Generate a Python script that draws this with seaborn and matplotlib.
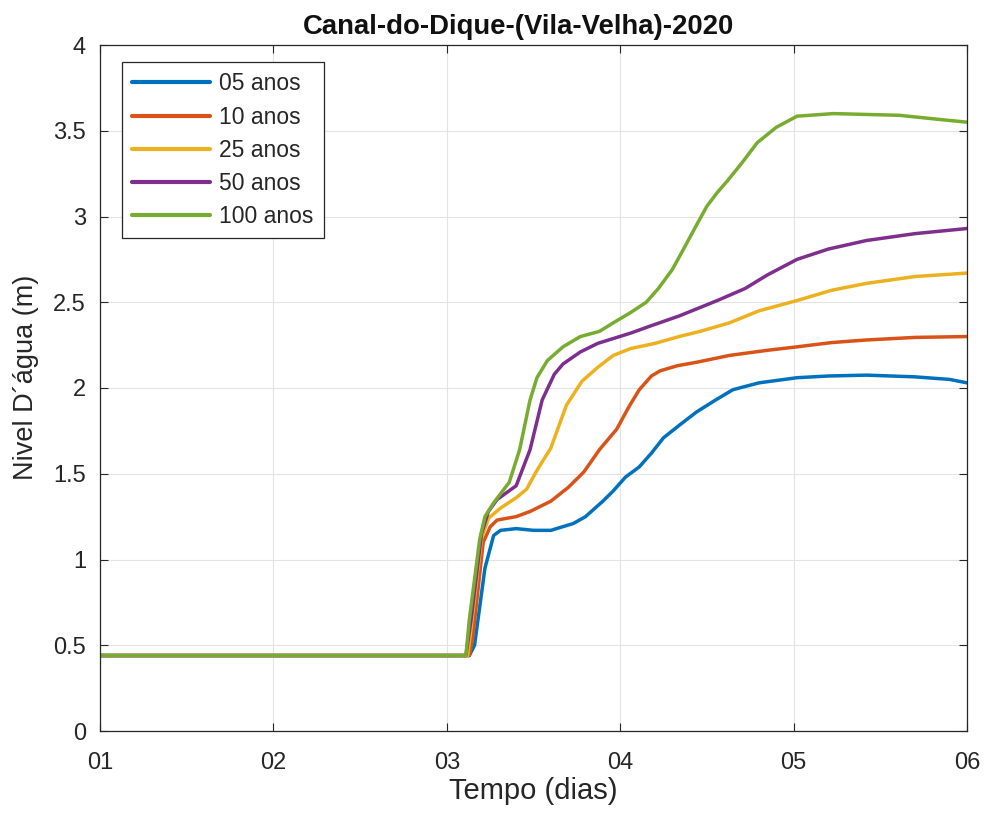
import numpy as np
import pandas as pd
import matplotlib
matplotlib.use("Agg")
import matplotlib.pyplot as plt
import seaborn as sns

series_names = ["05 anos", "10 anos", "25 anos", "50 anos", "100 anos"]
colors = ["#0072BD", "#D95319", "#EDB120", "#7E2F8E", "#77AC30"]

x_05 = [1.0, 3.13, 3.16, 3.22, 3.27, 3.31, 3.40, 3.50, 3.60, 3.73, 3.80, 3.90, 3.96, 4.03, 4.11, 4.18, 4.25,
        4.35, 4.44, 4.55, 4.65, 4.80, 5.02, 5.20, 5.42, 5.70, 5.90, 6.0]
y_05 = [0.44, 0.44, 0.50, 0.95, 1.14, 1.17, 1.18, 1.17, 1.17, 1.21, 1.25, 1.34, 1.40, 1.48, 1.54, 1.62, 1.71,
        1.79, 1.86, 1.93, 1.99, 2.03, 2.06, 2.07, 2.075, 2.065, 2.05, 2.03]

x_10 = [1.0, 3.13, 3.15, 3.21, 3.25, 3.29, 3.40, 3.48, 3.60, 3.70, 3.79, 3.88, 3.98, 4.05, 4.11, 4.18, 4.23,
        4.33, 4.44, 4.63, 4.85, 5.02, 5.22, 5.42, 5.70, 6.0]
y_10 = [0.44, 0.44, 0.55, 1.10, 1.19, 1.23, 1.25, 1.28, 1.34, 1.42, 1.51, 1.64, 1.76, 1.89, 1.99, 2.07, 2.10,
        2.13, 2.15, 2.19, 2.22, 2.24, 2.265, 2.28, 2.295, 2.30]

x_25 = [1.0, 3.12, 3.14, 3.20, 3.24, 3.31, 3.40, 3.46, 3.52, 3.60, 3.69, 3.78, 3.87, 3.96, 4.06, 4.20, 4.34,
        4.46, 4.63, 4.80, 5.02, 5.22, 5.42, 5.70, 6.0]
y_25 = [0.44, 0.44, 0.60, 1.12, 1.24, 1.30, 1.36, 1.41, 1.52, 1.65, 1.90, 2.04, 2.12, 2.19, 2.23, 2.26, 2.30,
        2.33, 2.38, 2.45, 2.51, 2.57, 2.61, 2.65, 2.67]

x_50 = [1.0, 3.11, 3.14, 3.20, 3.24, 3.29, 3.40, 3.48, 3.55, 3.62, 3.67, 3.77, 3.87, 4.06, 4.17, 4.34, 4.56,
        4.72, 4.85, 5.02, 5.20, 5.42, 5.70, 6.0]
y_50 = [0.44, 0.44, 0.65, 1.15, 1.28, 1.35, 1.43, 1.64, 1.93, 2.08, 2.14, 2.21, 2.26, 2.32, 2.36, 2.42, 2.51,
        2.58, 2.66, 2.75, 2.81, 2.86, 2.90, 2.93]

x_100 = [1.0, 3.11, 3.13, 3.19, 3.22, 3.27, 3.36, 3.42, 3.48, 3.52, 3.58, 3.67, 3.77, 3.88, 3.96, 4.06, 4.15,
         4.22, 4.30, 4.36, 4.44, 4.50, 4.56, 4.62, 4.70, 4.79, 4.90, 5.02, 5.23, 5.61, 5.85, 6.0]
y_100 = [0.44, 0.44, 0.65, 1.12, 1.25, 1.33, 1.45, 1.64, 1.93, 2.06, 2.16, 2.24, 2.30, 2.33, 2.38, 2.44, 2.50,
         2.58, 2.69, 2.80, 2.95, 3.06, 3.14, 3.21, 3.31, 3.43, 3.52, 3.585, 3.60, 3.59, 3.565, 3.55]

x_ticks = [1, 2, 3, 4, 5, 6]
x_tick_labels = ["01", "02", "03", "04", "05", "06"]
y_ticks = [0, 0.5, 1, 1.5, 2, 2.5, 3, 3.5, 4]
y_tick_labels = ["0", "0.5", "1", "1.5", "2", "2.5", "3", "3.5", "4"]

xs = [x_05, x_10, x_25, x_50, x_100]
ys = [y_05, y_10, y_25, y_50, y_100]
frames = []
for name, xv, yv in zip(series_names, xs, ys):
    frames.append(pd.DataFrame({"t": xv, "nivel": yv, "serie": name}))
df = pd.concat(frames, ignore_index=True)

sns.set_theme(style="whitegrid")
plt.rcParams["font.family"] = ["Liberation Sans", "DejaVu Sans"]

fig = plt.figure(figsize=(9.87, 8.19), dpi=100)
ax = fig.add_axes([100/987, 88/819, 867/987, 686/819])

sns.lineplot(data=df, x="t", y="nivel", hue="serie", hue_order=series_names,
             palette=colors, estimator=None, sort=False, linewidth=2.5, ax=ax)

ax.set_xlim(1, 6)
ax.set_ylim(0, 4)
ax.set_xticks(x_ticks)
ax.set_xticklabels(x_tick_labels)
ax.set_yticks(y_ticks)
ax.set_yticklabels(y_tick_labels)
ax.tick_params(axis="both", direction="in", length=6, width=0.8, colors="#262626",
               labelsize=17, top=True, right=True, bottom=True, left=True)
ax.tick_params(axis="x", pad=15)
ax.tick_params(axis="y", pad=10)
ax.grid(True, color="#e3e3e3", linewidth=0.8)
ax.set_facecolor("white")
for s in ax.spines.values():
    s.set_visible(True)
    s.set_color("#262626")
    s.set_linewidth(0.9)

ax.set_xlabel("Tempo (dias)", fontsize=21, color="#262626", labelpad=2)
ax.set_ylabel("Nivel D´água (m)", fontsize=19.5, color="#262626")
ax.yaxis.set_label_coords(-0.07, 0.515)
ax.set_title("Canal-do-Dique-(Vila-Velha)-2020", fontsize=19.8, fontweight="bold",
             color="#111111", pad=8, x=0.483)

leg = ax.legend(loc="upper left", bbox_to_anchor=(0.025, 0.975), borderaxespad=0,
                fontsize=16.5, frameon=True, fancybox=False, handlelength=3.4,
                handletextpad=0.4, labelspacing=0.44, borderpad=0.45)
leg.get_frame().set_edgecolor("#262626")
leg.get_frame().set_linewidth(0.9)
leg.get_frame().set_alpha(1)
for line in leg.get_lines():
    line.set_linewidth(3.0)

fig.savefig("out.png", dpi=100, facecolor="white")
